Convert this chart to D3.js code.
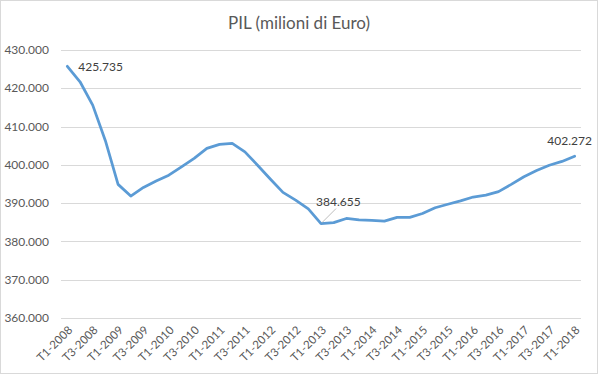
<!DOCTYPE html>
<html>
<head>
<meta charset="utf-8">
<script src="https://cdn.jsdelivr.net/npm/d3@7"></script>
<style>
  body { margin: 0; background: #fff; }
  svg { display: block; font-family: Lato, "Open Sans", sans-serif; }
</style>
</head>
<body>
<svg id="chart" width="598" height="374"></svg>
<script>
const years = [2008, 2009, 2010, 2011, 2012, 2013, 2014, 2015, 2016, 2017, 2018];

// quarters T1-2008 .. T1-2018
const quarters = [];
years.forEach(y => {
  for (let q = 1; q <= 4; q++) {
    if (y === 2018 && q > 1) break;
    quarters.push(`T${q}-${y}`);
  }
});

// PIL, milioni di Euro
const pil = [
  425735, 421700, 415600, 406300, 394900, 391850, 394100, 395800,
  397300, 399500, 401700, 404300, 405350, 405600, 403400, 399900,
  396300, 392800, 390800, 388500, 384655, 384900, 386000, 385600,
  385500, 385300, 386300, 386300, 387300, 388800, 389700, 390600,
  391600, 392100, 393000, 394900, 396900, 398500, 399900, 400900,
  402272
];

const yTicks = [360000, 370000, 380000, 390000, 400000, 410000, 420000, 430000];

// labelled points: index -> placement
const labelled = [
  { i: 0, pos: "right" },
  { i: 20, pos: "leader" },
  { i: 40, pos: "above" }
];

const itLocale = d3.formatLocale({ decimal: ",", thousands: ".", grouping: [3], currency: ["€", ""] });
const fmt = itLocale.format(",d");

const svg = d3.select("#chart");
const W = 598, H = 374;
const margin = { top: 50, right: 17, bottom: 56, left: 61 };
const width = W - margin.left - margin.right;
const height = H - margin.top - margin.bottom;

svg.append("rect")
  .attr("x", 0.5).attr("y", 0.5)
  .attr("width", W - 1).attr("height", H - 1)
  .attr("fill", "#fff").attr("stroke", "#d9d9d9");

svg.append("text")
  .attr("x", W / 2).attr("y", 29)
  .attr("text-anchor", "middle")
  .attr("font-size", 17)
  .attr("fill", "#595959")
  .text("PIL (milioni di Euro)");

const g = svg.append("g").attr("transform", `translate(${margin.left},${margin.top})`);

const x = d3.scaleBand().domain(quarters).range([0, width]);
const y = d3.scaleLinear().domain([360000, 430000]).range([height, 0]);
const cx = d => x(d) + x.bandwidth() / 2;

// gridlines
g.append("g")
  .selectAll("line")
  .data(yTicks)
  .join("line")
  .attr("x1", 0).attr("x2", width)
  .attr("y1", d => Math.round(y(d)) + 0.5).attr("y2", d => Math.round(y(d)) + 0.5)
  .attr("stroke", "#d9d9d9");

// y axis labels
g.append("g")
  .selectAll("text")
  .data(yTicks)
  .join("text")
  .attr("x", -12)
  .attr("y", d => y(d))
  .attr("dy", "0.35em")
  .attr("text-anchor", "end")
  .attr("font-size", 12)
  .attr("fill", "#595959")
  .text(d => fmt(d));

// x axis labels, every other quarter
g.append("g")
  .selectAll("text")
  .data(quarters.filter((d, i) => i % 2 === 0))
  .join("text")
  .attr("transform", d => `translate(${cx(d) + 3},${height + 10}) rotate(-45)`)
  .attr("text-anchor", "end")
  .attr("dy", "0.35em")
  .attr("font-size", 11.5)
  .attr("fill", "#595959")
  .text(d => d);

// line
const line = d3.line()
  .x((d, i) => cx(quarters[i]))
  .y(d => y(d));

g.append("path")
  .datum(pil)
  .attr("fill", "none")
  .attr("stroke", "#5b9bd5")
  .attr("stroke-width", 2.75)
  .attr("stroke-linejoin", "round")
  .attr("stroke-linecap", "round")
  .attr("d", line);

// data labels
labelled.forEach(l => {
  const px = cx(quarters[l.i]), py = y(pil[l.i]);
  const t = g.append("text")
    .attr("font-size", 12)
    .attr("fill", "#404040")
    .text(fmt(pil[l.i]));
  if (l.pos === "right") {
    t.attr("x", px + 11).attr("y", py).attr("dy", "0.35em");
  } else if (l.pos === "above") {
    t.attr("x", px - 5).attr("y", py - 11).attr("text-anchor", "middle");
  } else {
    g.append("line")
      .attr("x1", px + 1).attr("y1", py - 1)
      .attr("x2", px + 15).attr("y2", py - 15)
      .attr("stroke", "#a6a6a6").attr("stroke-width", 0.75);
    t.attr("x", px - 5).attr("y", py - 18);
  }
});
</script>
</body>
</html>
